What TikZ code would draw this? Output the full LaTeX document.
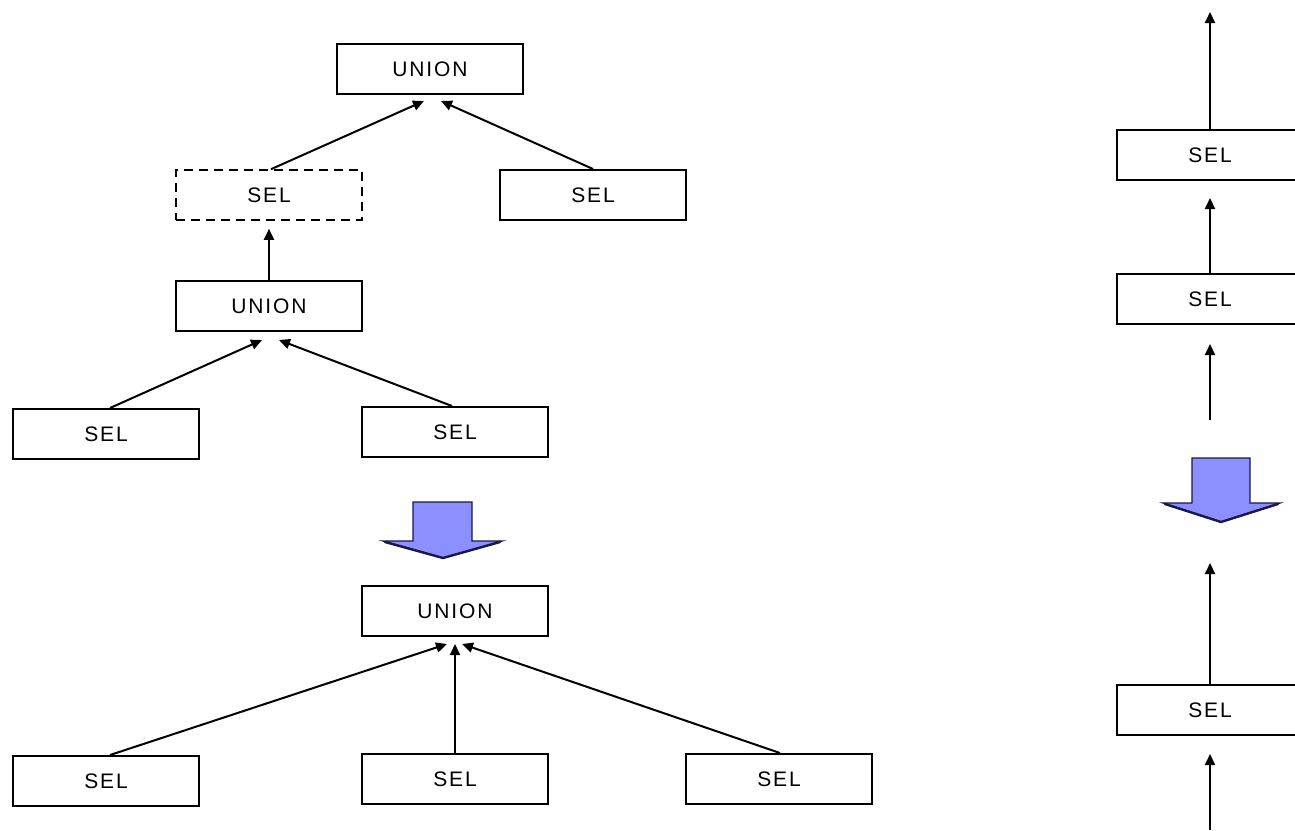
\documentclass[tikz,border=0pt]{standalone}
\usepackage{fontspec}
\setmainfont{Liberation Sans}
\newfontfamily\boxfont[LetterSpace=9]{Liberation Sans}
\usetikzlibrary{arrows.meta}
\definecolor{arrowblue}{RGB}{140,143,255}
\definecolor{arrowedge}{RGB}{25,25,70}
\begin{document}
\begin{tikzpicture}[x=1pt,y=-1pt,
  opbox/.style={draw, line width=2pt, minimum width=186pt, minimum height=50pt,
    inner sep=0pt, font=\boxfont\fontsize{21}{21}\selectfont},
  ghost/.style={opbox, dash pattern=on 9pt off 6pt, line width=1.6pt},
  flow/.style={line width=2pt, -{Triangle[length=11pt,width=10pt]}},
  bigarrow/.style={fill=arrowblue, draw=arrowedge, line width=1.3pt, line join=miter},
  headshade/.style={draw=arrowedge, line width=2.4pt, line cap=round}]

\useasboundingbox (0,0) rectangle (1295,830);
\clip (0,0) rectangle (1295,830);

% ---- upper tree: UNION over (SEL over UNION of two SELs) and SEL
\node[opbox] (u1) at (430,69) {UNION};
\node[ghost] (sd) at (269,195) {SEL};
\node[opbox] (s1) at (593,195) {SEL};
\node[opbox] (u2) at (269,306) {UNION};
\node[opbox] (s2) at (106,434) {SEL};
\node[opbox] (s3) at (455,432) {SEL};

\draw[flow] ([xshift=2pt]sd.north) -- ([xshift=-6pt,yshift=-6pt]u1.south);
\draw[flow] (s1.north) -- ([xshift=11pt,yshift=-6pt]u1.south);
\draw[flow] (u2.north) -- ([yshift=-8pt]sd.south);
\draw[flow] ([xshift=4pt]s2.north) -- ([xshift=-7pt,yshift=-8pt]u2.south);
\draw[flow] ([xshift=-3pt]s3.north) -- ([xshift=10pt,yshift=-8pt]u2.south);

% ---- rewrite step
\draw[bigarrow] (413,502) -- (472,502) -- (472,541) -- (502,541) -- (443,558)
  -- (383,541) -- (413,541) -- cycle;
\draw[headshade] (385,542) -- (443,558) -- (500,542);

% ---- lower tree: one UNION over three SELs
\node[opbox] (u3) at (455,611) {UNION};
\node[opbox] (b1) at (106,781) {SEL};
\node[opbox] (b2) at (455,779) {SEL};
\node[opbox] (b3) at (779,779) {SEL};

\draw[flow] ([xshift=4pt]b1.north) -- ([xshift=-8pt,yshift=-7pt]u3.south);
\draw[flow] (b2.north) -- ([yshift=-7pt]u3.south);
\draw[flow] ([xshift=1pt]b3.north) -- ([xshift=7pt,yshift=-7pt]u3.south);

% ---- chain of selections on the right
\node[opbox] (r1) at (1210,155) {SEL};
\node[opbox] (r2) at (1210,299) {SEL};
\node[opbox] (r3) at (1210,710) {SEL};
\coordinate (top) at (1210,12);
\coordinate (in1) at (1210,420);
\coordinate (out3) at (1210,563);
\coordinate (in3) at (1210,830);

\draw[flow] (r1.north) -- (top);
\draw[flow, shorten >=17pt] (r2.north) -- (r1.south);
\draw[flow] (in1) -- ([yshift=-19pt]r2.south);
\draw[flow] (r3.north) -- (out3);
\draw[flow, shorten >=18pt] (in3) -- (r3.south);

\draw[bigarrow] (1192,458) -- (1250,458) -- (1250,503) -- (1280,503) -- (1221,522)
  -- (1163,503) -- (1192,503) -- cycle;
\draw[headshade] (1165,504) -- (1221,522) -- (1278,504);
\end{tikzpicture}
\end{document}
